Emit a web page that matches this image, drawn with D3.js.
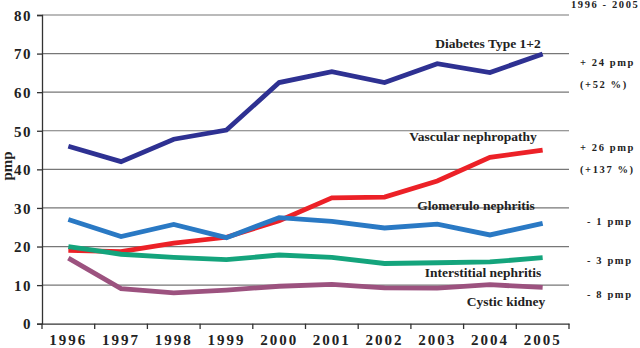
<!DOCTYPE html>
<html><head><meta charset="utf-8">
<script src="https://cdn.jsdelivr.net/npm/d3@7"></script>
<style>body{margin:0;background:#fff}svg{display:block}text{font-family:"Liberation Serif",serif;font-weight:bold;fill:#222}</style>
</head><body><svg id="c" width="640" height="348"></svg>
<script>
const years = ["1996","1997","1998","1999","2000","2001","2002","2003","2004","2005"];
const diabetes = [46, 42, 47.8, 50.2, 62.5, 65.3, 62.5, 67.4, 65.1, 69.9];
const vascular = [19, 18.7, 20.9, 22.4, 26.7, 32.6, 32.8, 37, 43.1, 45];
const glomerulo = [27, 22.6, 25.7, 22.3, 27.5, 26.5, 24.8, 25.8, 23, 26];
const interstitial = [20, 18, 17.2, 16.6, 17.8, 17.2, 15.6, 15.8, 16, 17.1];
const cystic = [17, 9.1, 8, 8.7, 9.7, 10.2, 9.3, 9.2, 10.1, 9.4];
const seriesNames = ["Diabetes Type 1+2","Vascular nephropathy","Glomerulo nephritis","Interstitial nephritis","Cystic kidney"];
const seriesColors = ["#2e3192","#ec2127","#2a79c4","#14a47c","#9c527f"];
const yTicks = [0,10,20,30,40,50,60,70,80];
const changes = ["+ 24 pmp","+ 26 pmp","- 1 pmp","- 3 pmp","- 8 pmp"];
const pcts = ["(+52 %)","(+137 %)"];
const series = [diabetes, vascular, glomerulo, interstitial, cystic];

const FONT = '"Liberation Serif",serif';
const svg = d3.select("#c");
const x = d3.scaleBand().domain(years).range([42, 569]);
const y = d3.scaleLinear().domain([0, 80]).range([323.7, 15]);

svg.append("g").selectAll("line").data(yTicks.slice(1)).join("line")
  .attr("x1", 42).attr("x2", 569).attr("y1", d => y(d)).attr("y2", d => y(d))
  .attr("stroke", "#777").attr("stroke-width", 1.2);

const ya = svg.append("g").attr("transform", "translate(42,0)")
  .call(d3.axisLeft(y).tickValues(yTicks).tickSize(5).tickPadding(5));
ya.attr("font-family", FONT);
ya.select(".domain").attr("stroke", "#333").attr("stroke-width", 1.3);
ya.selectAll(".tick line").attr("stroke", "#333").attr("stroke-width", 1.3);
ya.selectAll("text").attr("font-size", 15).attr("letter-spacing", 1.5)
  .style("font-family", FONT).attr("font-weight", "bold").attr("fill", "#222").attr("dy", "0.35em");

const xa = svg.append("g").attr("transform", "translate(0,323.7)")
  .call(d3.axisBottom(x).tickSize(0).tickPadding(0));
xa.attr("font-family", FONT);
xa.select(".domain").attr("stroke", "#333").attr("stroke-width", 1.3);
xa.selectAll("text").attr("font-size", 15).attr("letter-spacing", 2)
  .style("font-family", FONT).attr("font-weight", "bold").attr("fill", "#222")
  .attr("y", 21).attr("dy", 0);
const bounds = years.map(d => x(d)).concat([x.range()[1]]);
svg.append("g").selectAll("line").data(bounds).join("line")
  .attr("x1", d => d).attr("x2", d => d).attr("y1", 323.7).attr("y2", 329)
  .attr("stroke", "#333").attr("stroke-width", 1.3);

svg.append("text").attr("transform", "translate(12,166) rotate(-90)")
  .attr("text-anchor", "middle").attr("font-size", 15).text("pmp");

const line = d3.line().x((d, i) => x(years[i]) + x.bandwidth() / 2).y(d => y(d));
series.forEach((s, k) => {
  svg.append("path").datum(s).attr("d", line).attr("fill", "none")
    .attr("stroke", seriesColors[k]).attr("stroke-width", 4.8).attr("stroke-linejoin", "miter");
});

const labelPos = [[488, 48], [473, 141], [476, 210], [483, 277], [506, 306]];
seriesNames.forEach((n, k) => {
  svg.append("text").attr("x", labelPos[k][0]).attr("y", labelPos[k][1])
    .attr("text-anchor", "middle").attr("font-size", 13.5).text(n);
});

svg.append("text").attr("x", 571).attr("y", 8).attr("font-size", 10.5).attr("letter-spacing", 1.6).text("1996 - 2005");
const chY = [66, 151, 225, 264, 298];
const chX = [580, 580, 587, 587, 587];
changes.forEach((c, k) => {
  svg.append("text").attr("x", chX[k]).attr("y", chY[k]).attr("font-size", 10.5).attr("letter-spacing", 1.6).text(c);
});
const pY = [88, 173];
pcts.forEach((c, k) => {
  svg.append("text").attr("x", 580).attr("y", pY[k]).attr("font-size", 10.5).attr("letter-spacing", 1.6).text(c);
});
</script></body></html>
